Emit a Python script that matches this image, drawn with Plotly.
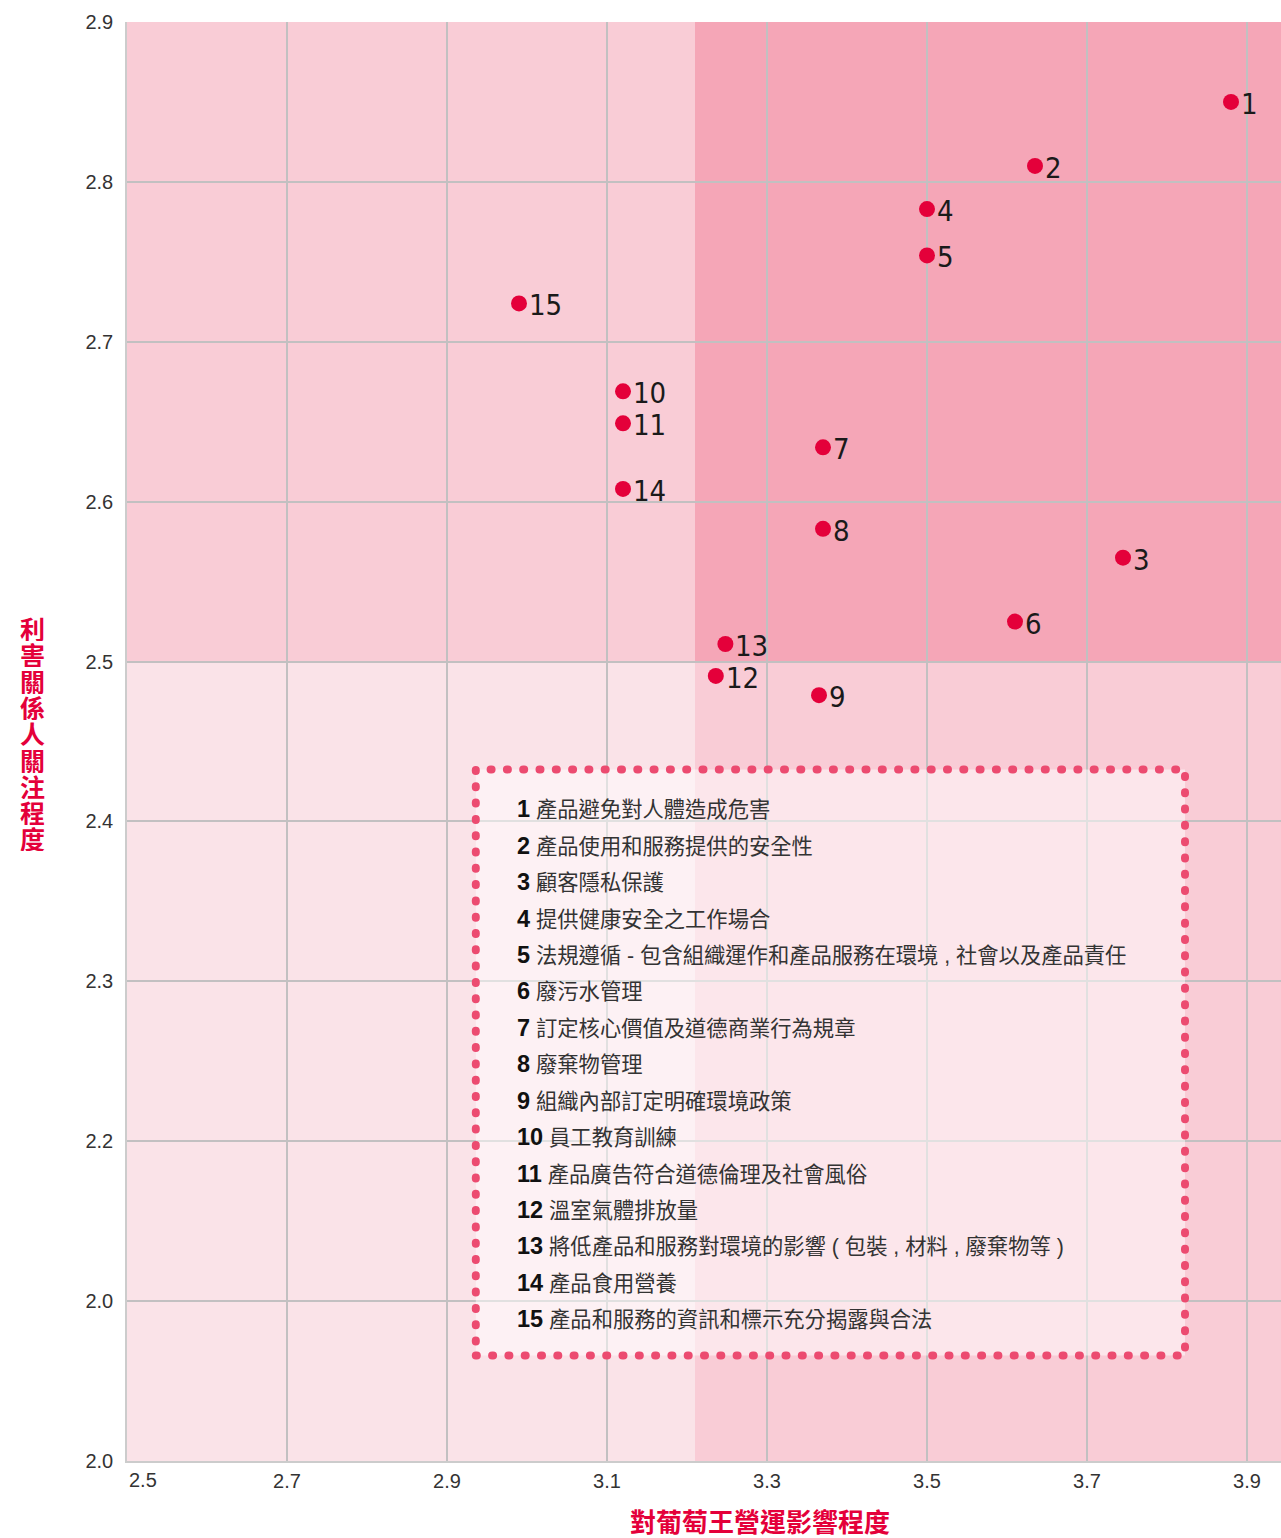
import plotly.graph_objects as go

# ---- data ----
issue_ids = ["1", "2", "3", "4", "5", "6", "7", "8", "9", "10", "11", "12", "13", "14", "15"]
impact = [3.88, 3.635, 3.745, 3.5, 3.5, 3.61, 3.37, 3.37, 3.365, 3.12, 3.12, 3.236, 3.248, 3.12, 2.99]
concern = [2.85, 2.81, 2.565, 2.783, 2.754, 2.525, 2.634, 2.583, 2.479, 2.669, 2.649, 2.491, 2.511, 2.608, 2.724]
issue_names = [
    "產品避免對人體造成危害",
    "產品使用和服務提供的安全性",
    "顧客隱私保護",
    "提供健康安全之工作場合",
    "法規遵循 - 包含組織運作和產品服務在環境 , 社會以及產品責任",
    "廢污水管理",
    "訂定核心價值及道德商業行為規章",
    "廢棄物管理",
    "組織內部訂定明確環境政策",
    "員工教育訓練",
    "產品廣告符合道德倫理及社會風俗",
    "溫室氣體排放量",
    "將低產品和服務對環境的影響 ( 包裝 , 材料 , 廢棄物等 )",
    "產品食用營養",
    "產品和服務的資訊和標示充分揭露與合法",
]
x_tickvals = [2.7, 2.9, 3.1, 3.3, 3.5, 3.7, 3.9]
x_ticktext = ["2.7", "2.9", "3.1", "3.3", "3.5", "3.7", "3.9"]
y_tickvals = [2.0, 2.1, 2.2, 2.3, 2.4, 2.5, 2.6, 2.7, 2.8, 2.9]
y_ticktext = ["2.0", "2.0", "2.2", "2.3", "2.4", "2.5", "2.6", "2.7", "2.8", "2.9"]
x_title = "對葡萄王營運影響程度"
y_title = "利害關係人關注程度"

# ---- layout constants ----
W, H = 1281, 1538
ML, MR, MT, MB = 127, 0, 22, 77
X_RANGE = [2.5, 3.9425]
Y_RANGE = [2.0, 2.9]
X_SPLIT, Y_SPLIT = 3.21, 2.5
RED = "#e4003a"
CJK = "Noto Sans CJK TC"

fig = go.Figure()

fig.add_trace(go.Scatter(
    x=impact, y=concern, mode="markers",
    marker=dict(size=16, color=RED, line=dict(width=0)),
    hoverinfo="skip", showlegend=False, cliponaxis=False,
))

# quadrant backgrounds
quads = [
    (X_RANGE[0], X_SPLIT, Y_SPLIT, Y_RANGE[1], "#f9ccd6"),
    (X_SPLIT, X_RANGE[1], Y_SPLIT, Y_RANGE[1], "#f5a6b7"),
    (X_RANGE[0], X_SPLIT, Y_RANGE[0], Y_SPLIT, "#fae3e8"),
    (X_SPLIT, X_RANGE[1], Y_RANGE[0], Y_SPLIT, "#f9ccd6"),
]
for x0, x1, y0, y1, c in quads:
    fig.add_shape(type="rect", xref="x", yref="y", x0=x0, x1=x1, y0=y0, y1=y1,
                  fillcolor=c, line=dict(width=0), layer="below")

# legend box
fig.add_shape(type="rect", xref="x", yref="y", x0=2.936, x1=3.8225, y0=2.066, y1=2.4325,
              fillcolor="rgba(255,255,255,0.5)", name="legendbox",
              line=dict(color="#ec4b70", width=8, dash="1px,15.3px"), layer="above")

ann = []
# point labels, placed at each data point through the axes
for px, py, lab in zip(impact, concern, issue_ids):
    ann.append(dict(xref="x", yref="y", x=px, y=py, text=lab, showarrow=False,
                    xanchor="left", yanchor="middle", xshift=8, yshift=-2,
                    font=dict(size=29, color="#1a1a1a", family="DejaVu Sans Condensed, DejaVu Sans")))

for i, (num, name) in enumerate(zip(issue_ids, issue_names)):
    ann.append(dict(
        xref="x", yref="y", x=2.9855, y=2.4075 - i * 0.02277,
        text=f"<b><span style='font-size:23.5px;color:#111'>{num}</span></b> {name}",
        showarrow=False, xanchor="left", yanchor="middle",
        font=dict(size=21.3, color="#333333", family="Liberation Sans, " + CJK),
    ))

# x-axis first tick label (shifted inside)
ann.append(dict(xref="x", yref="paper", x=2.5, y=0, yshift=-19, text="2.5", showarrow=False,
                xanchor="left", yanchor="middle",
                font=dict(size=20, color="#333333", family="Liberation Sans")))

# axis titles
def px_to_paper_x(px):
    return (px - ML) / (W - ML - MR)

def px_to_paper_y(py):
    return (H - MB - py) / (H - MT - MB)

ann.append(dict(xref="paper", yref="paper", x=px_to_paper_x(760), y=px_to_paper_y(1520),
                text=f"<b>{x_title}</b>", showarrow=False, xanchor="center", yanchor="middle",
                font=dict(size=26, color=RED, family=CJK)))
for i, ch in enumerate(y_title):
    ann.append(dict(xref="paper", yref="paper", x=px_to_paper_x(33), y=px_to_paper_y(628 + i * 26.3),
                    text=f"<b>{ch}</b>", showarrow=False, xanchor="center", yanchor="middle",
                    height=26,
                    font=dict(size=25, color=RED, family=CJK)))

axis_common = dict(showgrid=True, gridcolor="#c2c0c1", gridwidth=1.5,
                   zeroline=False, showline=True, linecolor="#cccccc", linewidth=1.5,
                   ticks="", tickfont=dict(size=20, color="#333333", family="Liberation Sans"),
                   fixedrange=True)

fig.update_layout(
    width=W, height=H,
    margin=dict(l=ML, r=MR, t=MT, b=MB, pad=0),
    paper_bgcolor="white", plot_bgcolor="white",
    xaxis=dict(range=X_RANGE, tickvals=x_tickvals, ticktext=x_ticktext,
               ticklabelstandoff=1, **axis_common),
    yaxis=dict(range=Y_RANGE, tickvals=y_tickvals, ticktext=y_ticktext,
               ticklabelstandoff=8, **axis_common),
    annotations=ann,
)

post = """
document.body.style.margin='0';
document.querySelectorAll('.layer-above .shapelayer path').forEach(function(p){
  p.style.strokeLinecap='round';
});
"""
fig.write_html("out.html", config={"displayModeBar": False}, post_script=post)
